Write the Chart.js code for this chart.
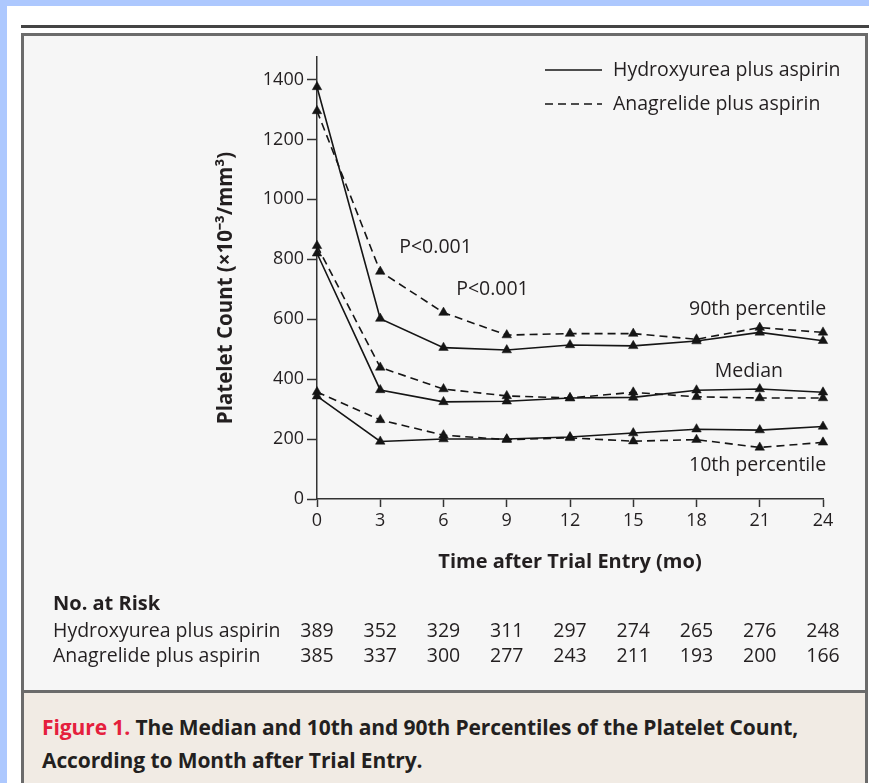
<!DOCTYPE html>
<html>
<head>
<meta charset="utf-8">
<script src="https://cdn.jsdelivr.net/npm/chart.js@4.4.1/dist/chart.umd.min.js"></script>
<style>
  html, body { margin: 0; padding: 0; }
  body {
    width: 869px; height: 783px; overflow: hidden; position: relative;
    background: #adc8fe; font-family: "Open Sans", sans-serif; color: #231f20;
  }
  .sheet { position: absolute; left: 7px; top: 6px; right: 0; bottom: 0; background: #fff; }
  .rule { position: absolute; left: 21px; top: 25px; right: 0; height: 3px; background: #444; }
  .frame {
    position: absolute; left: 21px; top: 33px; width: 841px; height: 800px;
    border: 3px solid #6b6b6b; background: #f6f6f6;
  }
  .legendBox {
    position: absolute; left: 0; right: 0; top: 654px; bottom: 0;
    border-top: 3px solid #6b6b6b; background: #f1ebe4;
  }
  .caption {
    position: absolute; left: 18px; top: 18px; width: 820px; white-space: nowrap;
    font-weight: bold; font-size: 21px; line-height: 33px; letter-spacing: -0.1px;
  }
  .caption .fig { color: #e5203d; }
  canvas { position: absolute; left: 0; top: 0; }
</style>
</head>
<body>
<div class="sheet"></div>
<div class="rule"></div>
<div class="frame">
  <div class="legendBox">
    <div class="caption"><span class="fig">Figure 1.</span> The Median and 10th and 90th Percentiles of the Platelet Count,<br>According to Month after Trial Entry.</div>
  </div>
</div>
<canvas id="plateletChart" width="869" height="690"></canvas>
<script>
// months after trial entry
const months = [0, 3, 6, 9, 12, 15, 18, 21, 24];

// platelet count (x10^-3/mm^3) by percentile and treatment
const hydroxyP90 = [1375, 602, 505, 497, 514, 511, 527, 556, 528];
const anagrelideP90 = [1295, 759, 622, 547, 552, 552, 533, 572, 556];
const hydroxyMedian = [820, 364, 324, 326, 337, 339, 363, 367, 356];
const anagrelideMedian = [845, 439, 367, 344, 337, 356, 341, 337, 337];
const hydroxyP10 = [343, 192, 200, 200, 207, 220, 233, 230, 242];
const anagrelideP10 = [357, 264, 213, 198, 204, 193, 198, 172, 189];

// patients at risk
const hydroxyAtRisk = [389, 352, 329, 311, 297, 274, 265, 276, 248];
const anagrelideAtRisk = [385, 337, 300, 277, 243, 211, 193, 200, 166];

const groupNames = ['Hydroxyurea plus aspirin', 'Anagrelide plus aspirin'];
const yTickValues = [0, 200, 400, 600, 800, 1000, 1200, 1400];

const ink = '#231f20';
const lineInk = '#151515';
const dash = [8, 5];
const fontFamily = '"Open Sans", sans-serif';
const textFont = '19.5px ' + fontFamily;

function series(values, dashed) {
    return {
        data: values.map((v, i) => ({ x: months[i], y: v })),
        borderColor: lineInk,
        backgroundColor: lineInk,
        borderWidth: 1.6,
        borderDash: dashed ? dash : [],
        pointStyle: 'triangle',
        pointRadius: 5.5,
        pointBorderWidth: 0.5,
        pointBackgroundColor: lineInk,
        pointBorderColor: lineInk,
        tension: 0,
        clip: false
    };
}

// text, legend and the at-risk table drawn on top of the plot
const overlay = {
    id: 'overlay',
    afterDraw(chart) {
        const ctx = chart.ctx;
        const x = chart.scales.x;
        const y = chart.scales.y;
        ctx.save();
        ctx.fillStyle = ink;
        ctx.textBaseline = 'middle';

        // y axis title
        ctx.save();
        ctx.translate(226, 288);
        ctx.rotate(-Math.PI / 2);
        ctx.textAlign = 'center';
        ctx.font = 'bold 20.5px ' + fontFamily;
        ctx.fillText('Platelet Count (\u00d710\u207b\u00b3/mm\u00b3)', 0, 0);
        ctx.restore();

        // legend
        ctx.font = textFont;
        ctx.textAlign = 'left';
        ctx.strokeStyle = lineInk;
        ctx.lineWidth = 1.6;
        [[], dash].forEach((d, i) => {
            const ly = 70 + i * 34;
            ctx.setLineDash(d);
            ctx.beginPath();
            ctx.moveTo(545, ly);
            ctx.lineTo(602, ly);
            ctx.stroke();
            ctx.fillText(groupNames[i], 613, ly);
        });
        ctx.setLineDash([]);

        // curve labels
        ctx.textAlign = 'left';
        ctx.fillText('P<0.001', x.getPixelForValue(3.9), y.getPixelForValue(838));
        ctx.fillText('P<0.001', x.getPixelForValue(6.6), y.getPixelForValue(698));
        ctx.textAlign = 'right';
        ctx.fillText('90th percentile', x.getPixelForValue(24.15), y.getPixelForValue(632));
        ctx.fillText('Median', x.getPixelForValue(22.1), y.getPixelForValue(425));
        ctx.fillText('10th percentile', x.getPixelForValue(24.15), y.getPixelForValue(112));

        // number at risk
        ctx.textAlign = 'left';
        ctx.font = 'bold 20px ' + fontFamily;
        ctx.fillText('No. at Risk', 53, 604);
        ctx.font = textFont;
        [hydroxyAtRisk, anagrelideAtRisk].forEach((row, r) => {
            const ry = 631 + r * 25;
            ctx.textAlign = 'left';
            ctx.fillText(groupNames[r], 53, ry);
            ctx.textAlign = 'center';
            row.forEach((n, i) => ctx.fillText(String(n), x.getPixelForValue(months[i]), ry));
        });
        ctx.restore();
    }
};

new Chart(document.getElementById('plateletChart'), {
    type: 'line',
    data: {
        datasets: [
            series(hydroxyP90, false),
            series(anagrelideP90, true),
            series(hydroxyMedian, false),
            series(anagrelideMedian, true),
            series(hydroxyP10, false),
            series(anagrelideP10, true)
        ]
    },
    options: {
        responsive: false,
        animation: false,
        layout: { padding: { top: 57, right: 46, bottom: 116, left: 200 } },
        plugins: { legend: { display: false }, tooltip: { enabled: false } },
        scales: {
            x: {
                type: 'linear',
                min: 0,
                max: 24,
                afterFit: (scale) => { scale.height = 75; },
                ticks: { stepSize: 3, color: ink, padding: 3, font: { size: 18, family: fontFamily } },
                grid: { drawOnChartArea: false, drawTicks: true, tickLength: 8, color: '#333', tickWidth: 1.5 },
                border: { display: true, color: '#333', width: 1.5 },
                title: {
                    display: true,
                    text: 'Time after Trial Entry (mo)',
                    color: ink,
                    padding: { top: 0, bottom: 0 },
                    font: { size: 20, weight: 'bold', family: fontFamily }
                }
            },
            y: {
                min: 0,
                max: 1475,
                afterFit: (scale) => { scale.width = 117; },
                afterBuildTicks: (scale) => { scale.ticks = yTickValues.map(v => ({ value: v })); },
                ticks: {
                    color: ink,
                    padding: 3,
                    font: { size: 18, family: fontFamily },
                    callback: (v) => String(v)
                },
                grid: { drawOnChartArea: false, drawTicks: true, tickLength: 10, color: '#333', tickWidth: 1.5 },
                border: { display: true, color: '#333', width: 1.5 }
            }
        }
    },
    plugins: [overlay]
});
</script>
</body>
</html>
